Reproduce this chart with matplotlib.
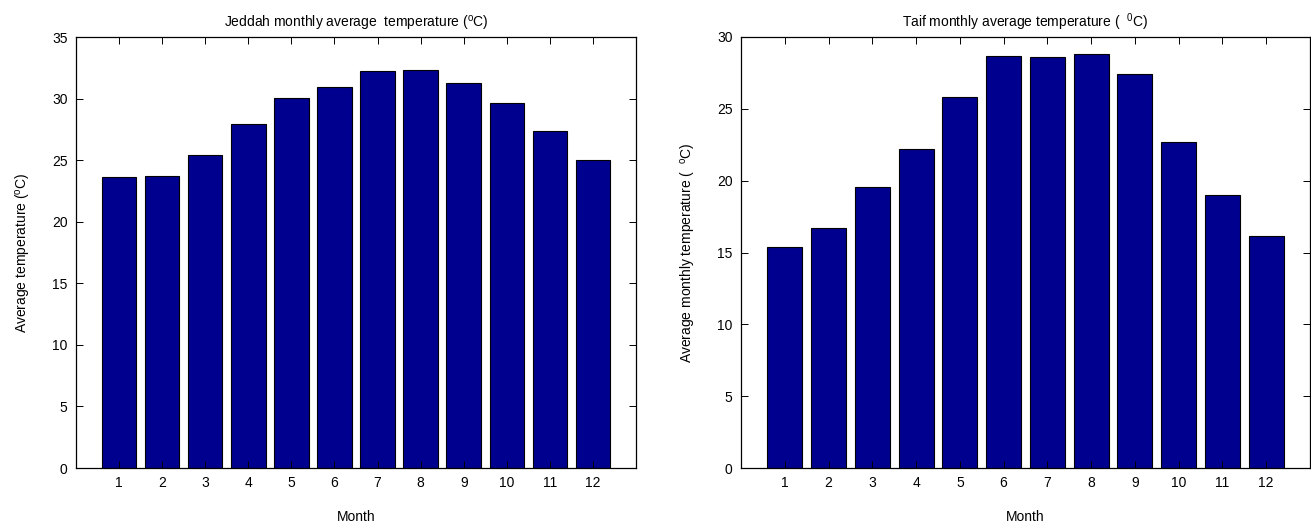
import matplotlib

matplotlib.use("Agg")
import matplotlib.pyplot as plt
import numpy as np

months = list(range(1, 13))
jeddah_temp = [23.6, 23.7, 25.4, 27.9, 30.05, 30.95, 32.2, 32.3, 31.3, 29.65, 27.35, 25.0]
taif_temp = [15.35, 16.7, 19.55, 22.2, 25.8, 28.7, 28.6, 28.8, 27.4, 22.7, 19.0, 16.15]

jeddah_yticks = list(range(0, 36, 5))
taif_yticks = list(range(0, 31, 5))

BAR_COLOR = "#00008f"

plt.rcParams.update(
    {
        "font.family": ["Liberation Sans", "DejaVu Sans"],
        "font.size": 10,
        "mathtext.fontset": "custom",
        "mathtext.rm": "Liberation Sans",
        "mathtext.it": "Liberation Sans",
    }
)


def style_axes(ax, yticks, ymax):
    ax.set_xlim(0, 13)
    ax.set_ylim(0, ymax)
    ax.set_xticks(months)
    ax.set_yticks(yticks)
    ax.tick_params(direction="in", top=True, right=True, length=5, width=0.7, labelsize=10, pad=6)
    for sp in ax.spines.values():
        sp.set_linewidth(0.9)
    ax.set_xlabel("Month", labelpad=14)


fig = plt.figure(figsize=(13.11, 5.23), dpi=100)
ax1 = fig.add_axes([76 / 1311, 55 / 523, 560 / 1311, 431 / 523])
ax2 = fig.add_axes([741 / 1311, 55 / 523, 569 / 1311, 431 / 523])

ax1.bar(months, jeddah_temp, width=0.8, color=BAR_COLOR, edgecolor="black", linewidth=0.8)
style_axes(ax1, jeddah_yticks, 35)
ax1.set_ylabel(r"Average temperature ($^{\mathrm{o}}$C)", labelpad=14)
ax1.set_title(r"Jeddah monthly average  temperature ($^{\mathrm{o}}$C)", fontsize=10, pad=7)

ax2.bar(months, taif_temp, width=0.8, color=BAR_COLOR, edgecolor="black", linewidth=0.8)
style_axes(ax2, taif_yticks, 30)
ax2.set_ylabel(r"Average monthly temperature (  $^{\mathrm{o}}$C)", labelpad=14)
ax2.set_title(r"Taif monthly average temperature (  $^{\mathrm{0}}$C)", fontsize=10, pad=7)

fig.savefig("out.png", dpi=100, facecolor="white")
plt.close(fig)
